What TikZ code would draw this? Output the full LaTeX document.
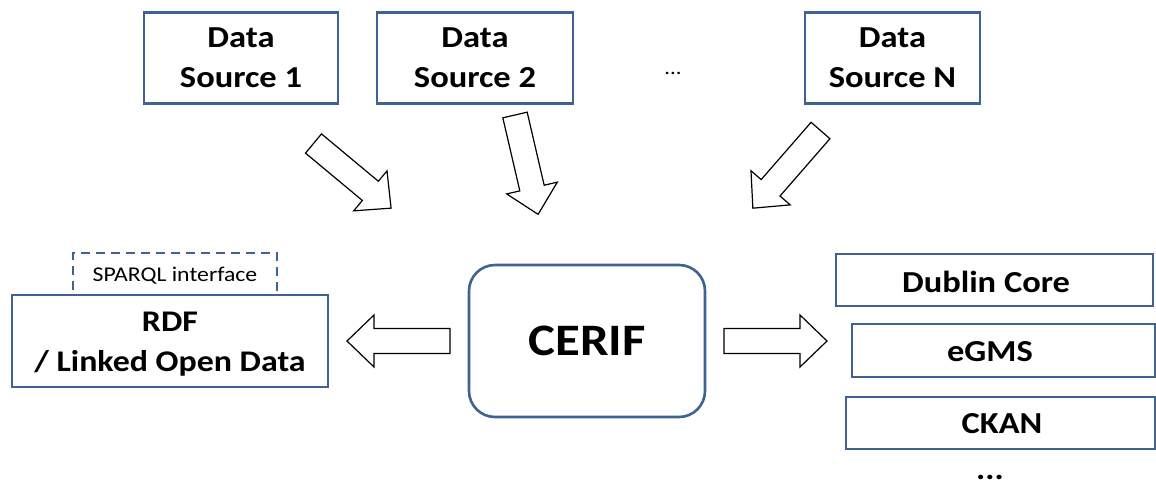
\documentclass[tikz,border=0pt]{standalone}
\usepackage{fontspec}
\setmainfont{Carlito}[FakeStretch=1.13]
\definecolor{boxblue}{HTML}{3F6294}
\tikzset{
  srcbox/.style={draw=boxblue, line width=2.6pt, fill=white, align=center, inner sep=0pt,
    font=\fontsize{30.5}{40}\selectfont\bfseries},
  barrow/.style={draw=black, line width=1.2pt, fill=white, line join=miter},
  lbl/.style={inner sep=0pt, font=\fontsize{30.5}{40}\selectfont\bfseries},
}
\newcommand\blockarr[3]{%
  \draw[barrow, shift={#1}, rotate=#2] (0,-12.5) -- ({#3-27},-12.5) -- ({#3-27},-26) -- (#3,0)
    -- ({#3-27},26) -- ({#3-27},12.5) -- (0,12.5) -- cycle;}
\begin{document}
\begin{tikzpicture}[x=1pt,y=-1pt]
\useasboundingbox (0,0) rectangle (1156,484);
% data sources
\node[srcbox, minimum width=194, minimum height=91] (ds1) at (241,58) {Data\\Source 1};
\node[srcbox, minimum width=196, minimum height=91] (ds2) at (475,58) {Data\\Source 2};
\node[srcbox, minimum width=175, minimum height=91] (dsn) at (892.5,58) {Data\\Source N};
\node[inner sep=0pt, font=\fontsize{20}{24}\selectfont] (dots1) at (673,73) {...};
% arrows down
\blockarr{(313.5,143.5)}{-39.8}{101}
\blockarr{(515,115)}{-76.9}{102}
\blockarr{(820.5,130.5)}{-131.05}{103}
% CERIF
\node[srcbox, rounded corners=26, minimum width=236, minimum height=152,
  font=\fontsize{45}{50}\selectfont\bfseries] (cerif) at (587,341) {CERIF};
% left side
\node[draw=boxblue, line width=2.4pt, dashed, dash pattern=on 9pt off 6pt, minimum width=204, minimum height=44,
  inner sep=0pt] (sparqlbox) at (175,275) {};
\node[inner sep=0pt, font=\fontsize{21}{24}\selectfont] (sparql) at (175,276) {SPARQL interface};
\node[srcbox, minimum width=316, minimum height=92, font=\fontsize{30}{40}\selectfont\bfseries, text depth=0pt] (rdf) at (170,341) {};
\node[inner sep=0pt, align=center, font=\fontsize{30}{40}\selectfont\bfseries] (rdft) at (170,344) {RDF\\/ Linked Open Data};
\blockarr{(450,341)}{180}{103}
\blockarr{(724,341)}{0}{103}
% right side
\node[srcbox, minimum width=317, minimum height=52] (dc) at (994.5,280) {};
\node[lbl] (dct) at (986,282) {Dublin Core};
\node[srcbox, minimum width=303, minimum height=53] (egms) at (1003.5,350.5) {};
\node[lbl] (egmst) at (990,352) {eGMS};
\node[srcbox, minimum width=309, minimum height=52] (ckan) at (1000.5,423) {};
\node[lbl] (ckant) at (1002,424) {CKAN};
\node[lbl, anchor=base] (dots2) at (990,479) {...};
\end{tikzpicture}
\end{document}
